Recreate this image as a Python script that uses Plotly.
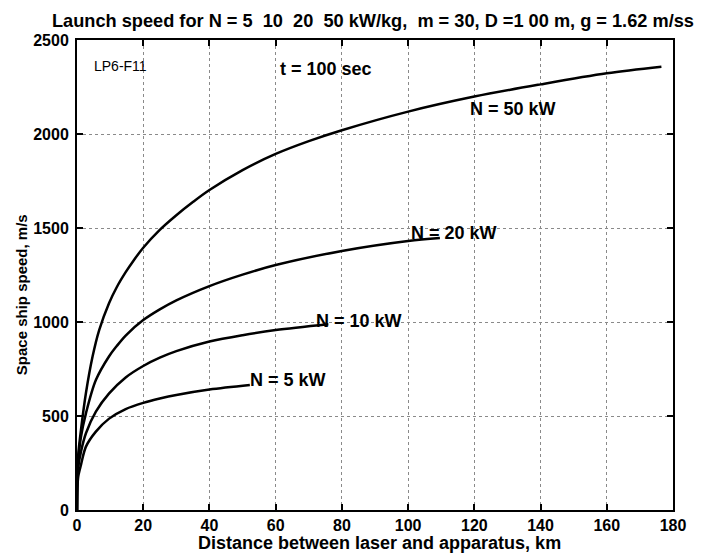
import plotly.graph_objects as go

# Distance (km) and speed (m/s)
x_n50 = [0, 0.1, 0.4, 1.2, 2.7, 4.7, 6.7, 9.7, 12, 14.7, 17, 20, 25, 30, 35, 40, 50, 60, 70, 80, 100, 120, 140, 160, 176.5]
v_n50 = [0, 200, 300, 426, 622, 816, 957, 1101, 1185, 1265, 1325, 1395, 1490, 1568, 1638, 1702, 1808, 1894, 1962, 2020, 2119, 2199, 2264, 2323, 2358]

x_n20 = [0, 0.1, 0.4, 1.2, 2.7, 5.7, 9.7, 12, 14.7, 20, 25, 30, 40, 50, 60, 80, 100, 109.6]
v_n20 = [0, 170, 270, 390, 514, 691, 818, 872, 928, 1010, 1067, 1115, 1191, 1252, 1303, 1378, 1431, 1447]

x_n10 = [0, 0.1, 0.4, 1.2, 2.7, 5.7, 9.7, 14.7, 20, 25, 30, 40, 50, 60, 75.9]
v_n10 = [0, 140, 230, 310, 408, 523, 620, 705, 766, 810, 845, 896, 930, 957, 988]

x_n5 = [0, 0.1, 0.4, 1.2, 2.7, 5.7, 9.7, 14.7, 20, 25, 30, 40, 52.2]
v_n5 = [0, 110, 180, 240, 337, 417, 486, 537, 570, 593, 612, 641, 665]

x_ticks = [0, 20, 40, 60, 80, 100, 120, 140, 160, 180]
y_ticks = [0, 500, 1000, 1500, 2000, 2500]

labels = ["N = 50 kW", "N = 20 kW", "N = 10 kW", "N = 5 kW"]
label_x = [131.7, 113.8, 85.3, 63.7]
label_y = [2133, 1472, 1005, 691]

FONT = "Liberation Sans, Arial, sans-serif"

fig = go.Figure()
for xs, vs in [(x_n50, v_n50), (x_n20, v_n20), (x_n10, v_n10), (x_n5, v_n5)]:
    fig.add_trace(go.Scatter(x=xs, y=vs, mode="lines",
                             line=dict(color="black", width=2.5, shape="spline", smoothing=0.9),
                             showlegend=False, hoverinfo="skip"))

for t, lx, ly in zip(labels, label_x, label_y):
    fig.add_annotation(x=lx, y=ly, text=t, showarrow=False,
                       font=dict(family=FONT, size=18, color="black", weight="bold"))

fig.add_annotation(x=75.3, y=2344, text="t = 100 sec", showarrow=False,
                   font=dict(family=FONT, size=18, color="black", weight="bold"))
fig.add_annotation(x=13.1, y=2362, text="LP6-F11", showarrow=False,
                   font=dict(family=FONT, size=14, color="black"))

title = "Launch speed for N = 5\u00a0\u00a010\u00a0\u00a020\u00a0\u00a050 kW/kg,\u00a0\u00a0m = 30, D =1 00 m, g = 1.62 m/ss"
fig.add_annotation(xref="paper", yref="paper", x=0.496, y=1.0, yshift=19, text=title,
                   showarrow=False, xanchor="center", yanchor="middle",
                   font=dict(family=FONT, size=18.2, color="black", weight="bold"))

# axis titles as annotations for precise placement
fig.add_annotation(xref="paper", yref="paper", x=0.507, y=0, yshift=-33,
                   text="Distance between laser and apparatus, km", showarrow=False,
                   xanchor="center", yanchor="middle",
                   font=dict(family=FONT, size=18, color="black", weight="bold"))
fig.add_annotation(xref="paper", yref="paper", x=0, y=0.457, xshift=-56,
                   text="Space ship speed, m/s", showarrow=False, textangle=-90,
                   xanchor="center", yanchor="middle",
                   font=dict(family=FONT, size=15, color="black", weight="bold"))

axis_common = dict(showline=True, linecolor="black", linewidth=2, mirror="allticks",
                   ticks="inside", ticklen=6, tickwidth=1.5, tickcolor="black",
                   showgrid=True, gridcolor="#8a8a8a", griddash="dot", gridwidth=1,
                   zeroline=False,
                   tickfont=dict(family=FONT, size=16, color="black", weight="bold"))

fig.update_xaxes(range=[0, 180], tickvals=x_ticks, ticktext=[str(v) for v in x_ticks],
                 **axis_common)
fig.update_yaxes(range=[0, 2500], tickvals=y_ticks, ticktext=[str(v) for v in y_ticks],
                 ticklabelstandoff=3, **axis_common)

# page body adds an 8 px margin, so the figure is sized and offset to compensate
fig.update_layout(width=696, height=548, plot_bgcolor="white", paper_bgcolor="white",
                  margin=dict(l=69, r=31, t=32, b=46, autoexpand=False),
                  font=dict(family=FONT, color="black"))

fig.write_html("out.html")
